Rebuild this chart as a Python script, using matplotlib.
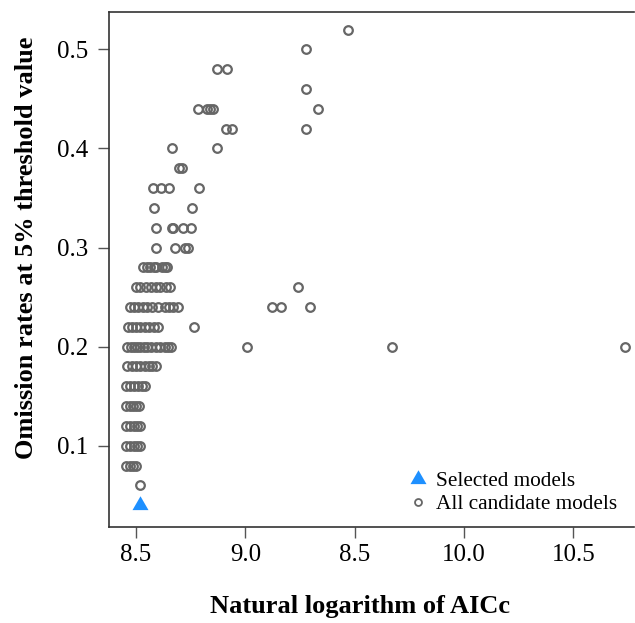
import matplotlib
matplotlib.use("Agg")
import matplotlib.pyplot as plt
from matplotlib.lines import Line2D
import numpy as np

plt.rcParams['font.family'] = ['Liberation Serif', 'DejaVu Serif']

# Candidate models: x values (ln AICc) per omission-rate level
levels = [0.52, 0.50, 0.48, 0.46, 0.44, 0.42, 0.40, 0.38, 0.36, 0.34, 0.32, 0.30,
          0.28, 0.26, 0.24, 0.22, 0.20, 0.18, 0.16, 0.14, 0.12, 0.10, 0.08, 0.06]
x_052 = [9.471]
x_050 = [9.278]
x_048 = [8.872, 8.915]
x_046 = [9.278]
x_044 = [8.785, 8.823, 8.838, 8.854, 9.334]
x_042 = [8.912, 8.938, 9.278]
x_040 = [8.663, 8.872]
x_038 = [8.694, 8.709]
x_036 = [8.579, 8.614, 8.651, 8.788]
x_034 = [8.582, 8.755]
x_032 = [8.590, 8.663, 8.671, 8.716, 8.750]
x_030 = [8.590, 8.678, 8.724, 8.739]
x_028 = [8.533, 8.55, 8.565, 8.58, 8.59, 8.62, 8.63, 8.64]
x_026 = [8.50, 8.52, 8.545, 8.57, 8.59, 8.61, 8.635, 8.655, 9.243]
x_024 = [8.47, 8.49, 8.51, 8.53, 8.55, 8.575, 8.60, 8.63, 8.65, 8.67, 8.69,
         9.121, 9.163, 9.296]
x_022 = [8.465, 8.48, 8.50, 8.52, 8.54, 8.56, 8.58, 8.60, 8.767]
x_020 = [8.46, 8.475, 8.49, 8.505, 8.52, 8.535, 8.55, 8.57, 8.59, 8.61, 8.63,
         8.645, 8.66, 9.006, 9.670, 10.737]
x_018 = [8.46, 8.48, 8.50, 8.52, 8.54, 8.56, 8.575, 8.59]
x_016 = [8.455, 8.47, 8.49, 8.51, 8.525, 8.54]
x_014 = [8.455, 8.47, 8.485, 8.50, 8.515]
x_012 = [8.455, 8.47, 8.49, 8.505, 8.52]
x_010 = [8.455, 8.47, 8.49, 8.505, 8.52]
x_008 = [8.455, 8.47, 8.485, 8.50]
x_006 = [8.518]
rows = [x_052, x_050, x_048, x_046, x_044, x_042, x_040, x_038, x_036, x_034,
        x_032, x_030, x_028, x_026, x_024, x_022, x_020, x_018, x_016, x_014,
        x_012, x_010, x_008, x_006]

# Selected model
sel_x = [8.518]
sel_y = [0.04]

xticks = [8.5, 9.0, 9.5, 10.0, 10.5]
xtick_labels = ["8.5", "9.0", "8.5", "10.0", "10.5"]
yticks = [0.1, 0.2, 0.3, 0.4, 0.5]
ytick_labels = ["0.1", "0.2", "0.3", "0.4", "0.5"]

cand_x = np.concatenate([np.array(r) for r in rows])
cand_y = np.concatenate([np.full(len(r), lv) for r, lv in zip(rows, levels)])

fig = plt.figure(figsize=(6.35, 6.23), dpi=100)
ax = fig.add_axes([109/635, 1-527/623, (634-109)/635, (527-11.7)/623])

gray = '#666666'
blue = '#1E90FF'
tri = [(-1, -0.5774), (1, -0.5774), (0, 1.1547)]

ax.plot(cand_x, cand_y, linestyle='none', marker='o', markersize=6.2,
        markerfacecolor='none', markeredgecolor=gray, markeredgewidth=1.6)
ax.plot(sel_x, sel_y, linestyle='none', marker=tri, markersize=13.3,
        color=blue, markeredgewidth=0)

ax.set_xlim(8.376, 10.778)
ax.set_ylim(0.018, 0.538)
ax.set_xticks(xticks)
ax.set_xticklabels(xtick_labels)
ax.set_yticks(yticks)
ax.set_yticklabels(ytick_labels)
ax.tick_params(axis='both', direction='out', length=8, width=1, color='#555555',
               labelsize=18)
ax.tick_params(axis='x', pad=4)
ax.tick_params(axis='y', pad=7)
for s in ['left', 'bottom', 'top']:
    ax.spines[s].set_color('#333333')
    ax.spines[s].set_linewidth(1.2)
ax.spines['right'].set_visible(False)

fig.text(360.5/635, 1-607/623, 'Natural logarithm of AICc', ha='center', va='center',
         fontsize=19, fontweight='bold')
fig.text(27/635, 1-248/623, 'Omission rates at 5% threshold value', ha='center',
         va='center', rotation=90, fontsize=19, fontweight='bold')

handles = [
    Line2D([], [], linestyle='none', marker=tri, markersize=13.3, color=blue,
           markeredgewidth=0),
    Line2D([], [], linestyle='none', marker='o', markersize=5,
           markerfacecolor='none', markeredgecolor=gray, markeredgewidth=1.3),
]
ax.legend(handles, ['Selected models', 'All candidate models'], frameon=False,
          loc='lower right', bbox_to_anchor=(628/635, 1-525/623),
          bbox_transform=fig.transFigure, fontsize=15.3, handletextpad=0.25,
          labelspacing=0.15, borderpad=0, handlelength=1.2)

fig.savefig('out.png', dpi=100)
